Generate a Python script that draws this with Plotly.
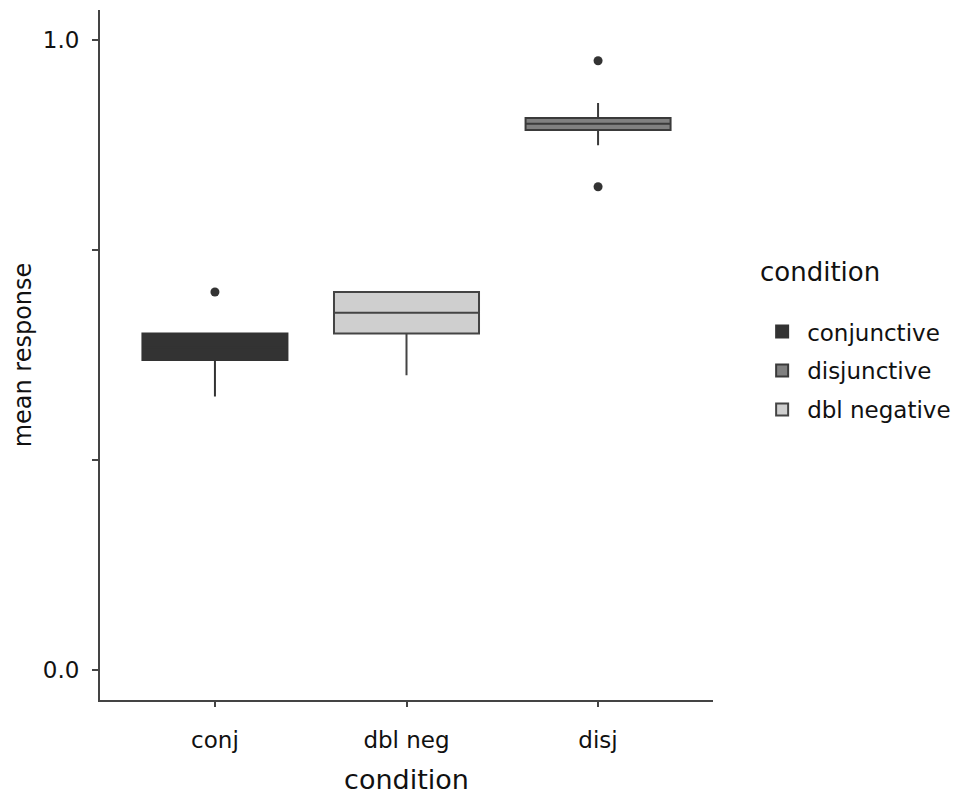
import plotly.graph_objects as go

# Data
categories = ["conj", "dbl neg", "disj"]
trace_names = ["conjunctive", "disjunctive", "dbl negative"]
trace_cats = ["conj", "disj", "dbl neg"]
q1_vals = [0.492, 0.857, 0.534]
median_vals = [0.512, 0.867, 0.567]
q3_vals = [0.534, 0.876, 0.600]
lower_vals = [0.434, 0.833, 0.468]
upper_vals = [0.534, 0.900, 0.600]
outlier_cats = ["conj", "disj", "disj"]
outlier_vals = [0.600, 0.967, 0.767]
y_tick_vals = [0.0, 1/3, 2/3, 1.0]
y_tick_text = ["0.0", "", "", "1.0"]

fills = ["#333333", "#808080", "#cfcfcf"]
lines = ["#333333", "#3a3a3a", "#444444"]

FONT = "DejaVu Sans"

fig = go.Figure()
for i in range(3):
    fig.add_trace(go.Box(
        name=trace_names[i],
        legendgroup="g%d" % i,
        x=[trace_cats[i]],
        q1=[q1_vals[i]], median=[median_vals[i]], q3=[q3_vals[i]],
        lowerfence=[lower_vals[i]], upperfence=[upper_vals[i]],
        fillcolor=fills[i],
        line=dict(color=lines[i], width=2),
        whiskerwidth=0,
        width=0.757,
        boxpoints=False,
        hoverinfo="skip",
    ))

fig.add_trace(go.Scatter(
    x=outlier_cats, y=outlier_vals, mode="markers",
    marker=dict(color="#333333", size=9),
    showlegend=False, hoverinfo="skip",
))

fig.add_annotation(
    text="condition", xref="paper", yref="paper",
    x=1.0734, xanchor="left", y=0.6203, yanchor="middle",
    showarrow=False, font=dict(size=26, family=FONT, color="#111111"),
)

fig.update_layout(
    width=953, height=789,
    paper_bgcolor="white", plot_bgcolor="white",
    margin=dict(l=92, r=248, t=2, b=97),
    font=dict(family=FONT, color="#111111", size=18),
    boxmode="overlay",
    legend=dict(
        x=1.072, xanchor="left", y=0.565, yanchor="top",
        font=dict(size=23, family=FONT),
        itemwidth=40,
        tracegroupgap=6,
    ),
    xaxis=dict(
        type="category", categoryorder="array", categoryarray=categories,
        range=[-0.6, 2.6],
        showline=True, linecolor="#444444", linewidth=2,
        ticks="outside", ticklen=5, tickcolor="#444444", tickwidth=2,
        showgrid=False, zeroline=False, automargin=False,
        ticklabelstandoff=13,
        tickfont=dict(size=23),
        title=dict(text="condition", font=dict(size=27), standoff=19),
    ),
    yaxis=dict(
        range=[-0.0476, 1.0476],
        tickvals=y_tick_vals, ticktext=y_tick_text,
        showline=True, linecolor="#444444", linewidth=2,
        ticks="outside", ticklen=6, tickcolor="#444444", tickwidth=2,
        showgrid=False, zeroline=False, automargin=False,
        ticklabelstandoff=8,
        tickfont=dict(size=23),
        title=dict(text="mean response", font=dict(size=24), standoff=4),
    ),
)

fig.write_html("out.html")
